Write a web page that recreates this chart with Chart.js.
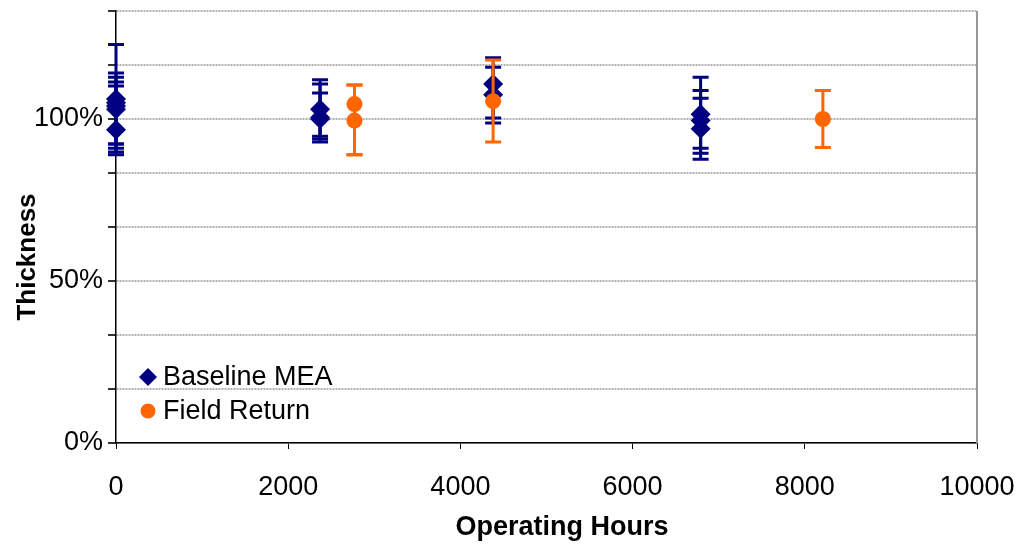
<!DOCTYPE html>
<html>
<head>
<meta charset="utf-8">
<script src="https://cdn.jsdelivr.net/npm/chart.js"></script>
<style>
    body { margin: 0; background: #fff; }
    #wrap { width: 1029px; height: 545px; position: relative; }
</style>
</head>
<body>
<div id="wrap"><canvas id="chart"></canvas></div>
<script>
// Baseline MEA
const baseHours = [0, 0, 0, 0, 0, 2370, 2370, 2370, 4380, 4380, 6790, 6790, 6790];
const baseThick = [106.2, 105, 104, 103, 96.7, 103, 100.5, 100, 110.8, 107.5, 101.5, 99.5, 97];
const baseLow = [89, 92.3, 91, 89.8, 92.3, 94.7, 93.8, 92.9, 100.3, 98.8, 91, 89.4, 87.6];
const baseHigh = [123, 114.2, 112.9, 111.4, 110.2, 112.1, 110.8, 108, 118.9, 116, 112.9, 108.8, 106.4];

// Field Return
const fieldHours = [2770, 2770, 4380, 8210];
const fieldThick = [104.6, 99.5, 105.5, 100];
const fieldLow = [89, 89, 92.9, 91.2];
const fieldHigh = [110.5, 110.5, 118.2, 108.8];

const xTicks = [0, 2000, 4000, 6000, 8000, 10000];
const yLabels = [0, 50, 100];

const NAVY = "#000080";
const ORANGE = "#ff6600";
const FONT = "'Liberation Sans', Arial, sans-serif";

function toPoints(xs, ys, lo, hi) {
    return xs.map((x, i) => ({ x: x, y: ys[i], yMin: lo[i], yMax: hi[i] }));
}

const errorBars = {
    id: "errorBars",
    beforeDatasetDraw(chart, args) {
        const ds = chart.data.datasets[args.index];
        const yScale = chart.scales.y;
        const ctx = chart.ctx;
        ctx.save();
        ctx.strokeStyle = ds.borderColor;
        ctx.lineWidth = 3;
        args.meta.data.forEach((pt, i) => {
            const d = ds.data[i];
            const top = yScale.getPixelForValue(d.yMax);
            const bot = yScale.getPixelForValue(d.yMin);
            ctx.beginPath();
            ctx.moveTo(pt.x, top);
            ctx.lineTo(pt.x, bot);
            ctx.moveTo(pt.x - 8, top);
            ctx.lineTo(pt.x + 8, top);
            ctx.moveTo(pt.x - 8, bot);
            ctx.lineTo(pt.x + 8, bot);
            ctx.stroke();
        });
        ctx.restore();
    },
};

const frame = {
    id: "frame",
    beforeDatasetsDraw(chart) {
        const { ctx, chartArea } = chart;
        ctx.save();
        ctx.strokeStyle = "#999999";
        ctx.lineWidth = 2;
        ctx.beginPath();
        ctx.moveTo(chartArea.right, chartArea.top);
        ctx.lineTo(chartArea.right, chartArea.bottom);
        ctx.stroke();
        ctx.restore();
    },
};

// axis titles sit a little off-centre in the original, so draw them by hand
const axisTitles = {
    id: "axisTitles",
    afterDraw(chart) {
        const ctx = chart.ctx;
        ctx.save();
        ctx.fillStyle = "#000";
        ctx.font = "bold 27px " + FONT;
        ctx.textAlign = "center";
        ctx.textBaseline = "middle";
        ctx.fillText("Operating Hours", 562, 528);
        ctx.translate(28, 257);
        ctx.rotate(-Math.PI / 2);
        ctx.font = "bold 26px " + FONT;
        ctx.fillText("Thickness", 0, 0);
        ctx.restore();
    },
};

const insideLegend = {
    id: "insideLegend",
    afterDraw(chart) {
        const ctx = chart.ctx;
        const items = [
            { text: "Baseline MEA", style: "rectRot", r: 9, color: NAVY, y: 377 },
            { text: "Field Return", style: "circle", r: 7.5, color: ORANGE, y: 411 },
        ];
        ctx.save();
        items.forEach((it) => {
            ctx.fillStyle = it.color;
            ctx.strokeStyle = it.color;
            Chart.helpers.drawPoint(ctx, { pointStyle: it.style, radius: it.r, rotation: 0, borderWidth: 0 }, 148, it.y);
            ctx.fillStyle = "#000";
            ctx.font = "27px " + FONT;
            ctx.textBaseline = "middle";
            ctx.textAlign = "left";
            ctx.fillText(it.text, 163, it.y + 1);
        });
        ctx.restore();
    },
};

new Chart(document.getElementById("chart"), {
    type: "scatter",
    data: {
        datasets: [
            {
                label: "Baseline MEA",
                data: toPoints(baseHours, baseThick, baseLow, baseHigh),
                pointStyle: "rectRot",
                pointRadius: 10,
                borderColor: NAVY,
                backgroundColor: NAVY,
                borderWidth: 0,
                clip: false,
                order: 1,
            },
            {
                label: "Field Return",
                data: toPoints(fieldHours, fieldThick, fieldLow, fieldHigh),
                pointStyle: "circle",
                pointRadius: 8,
                borderColor: ORANGE,
                backgroundColor: ORANGE,
                borderWidth: 0,
                clip: false,
                order: 0,
            },
        ],
    },
    options: {
        responsive: true,
        maintainAspectRatio: false,
        animation: false,
        layout: { padding: { top: 11, right: 52, left: 0, bottom: 0 } },
        plugins: {
            legend: { display: false },
            tooltip: { enabled: false },
        },
        scales: {
            x: {
                type: "linear",
                min: 0,
                max: 10000,
                afterBuildTicks: (scale) => {
                    scale.ticks = xTicks.map((v) => ({ value: v }));
                },
                afterFit: (scale) => {
                    scale.height = 102;
                    scale.paddingLeft = 0;
                    scale.paddingRight = 0;
                },
                grid: {
                    drawOnChartArea: false,
                    tickLength: 6,
                    tickColor: "#000",
                },
                border: { color: "#000", width: 1.5 },
                ticks: {
                    color: "#000",
                    padding: 22,
                    font: { family: FONT, size: 27 },
                    callback: (v) => String(v),
                },
            },
            y: {
                type: "linear",
                min: 0,
                max: 400 / 3,
                afterFit: (scale) => {
                    scale.width = 116;
                    scale.paddingTop = 0;
                    scale.paddingBottom = 0;
                },
                ticks: {
                    stepSize: 50 / 3,
                    color: "#000",
                    padding: 5,
                    font: { family: FONT, size: 27 },
                    callback: (v) => {
                        const r = Math.round(v);
                        return Math.abs(v - r) < 0.01 && yLabels.includes(r) ? r + "%" : "";
                    },
                },
                grid: {
                    color: "#b0b0b0",
                    lineWidth: 2,
                    tickLength: 8,
                    tickColor: "#333",
                },
                border: { color: "#000", width: 1.5, dash: [2, 1] },
            },
        },
    },
    plugins: [errorBars, frame, axisTitles, insideLegend],
});
</script>
</body>
</html>
